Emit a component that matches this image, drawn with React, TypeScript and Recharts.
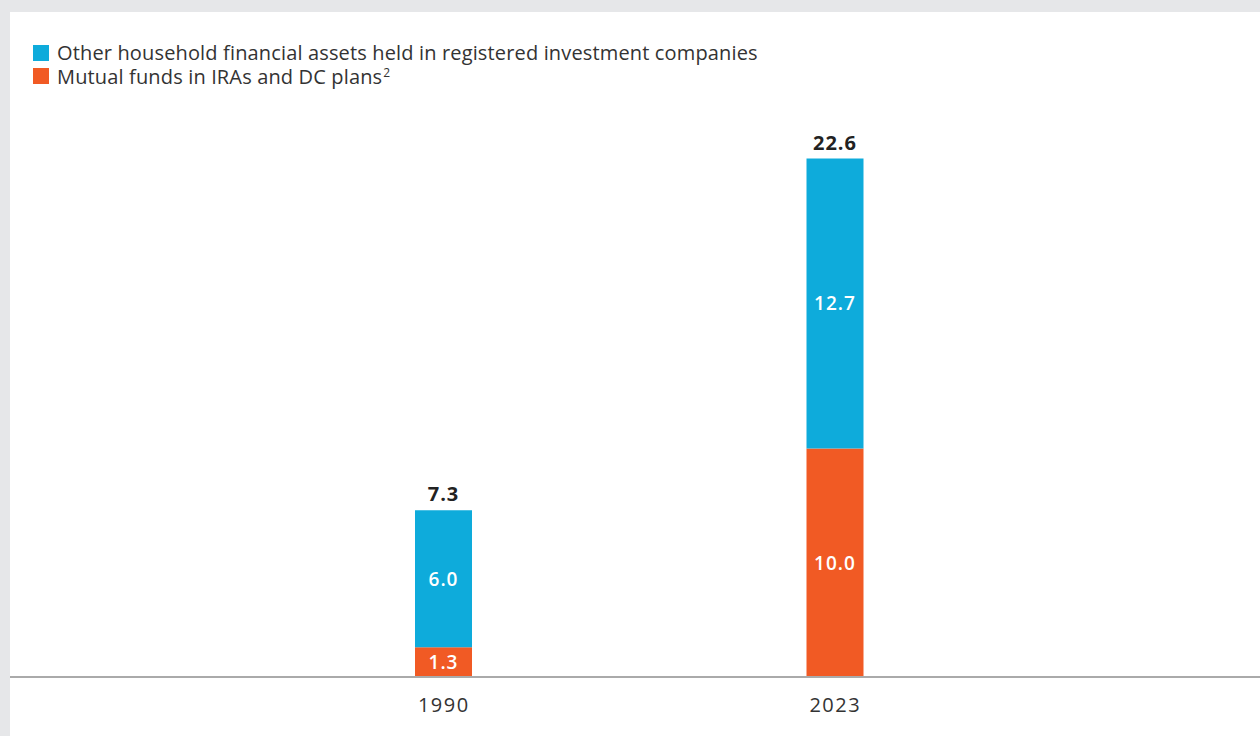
import { BarChart, Bar, XAxis, YAxis, LabelList } from 'recharts'

const years = ['1990', '2023']
const mutualFunds = [1.3, 10.0]
const otherAssets = [6.0, 12.7]
const totals = [7.3, 22.6]
const seriesNames = ['Other household financial assets held in registered investment companies', 'Mutual funds in IRAs and DC plans']
const seriesColors = ['#0eabdb', '#f15a24']

const data = years.map((year, i) => ({
  year,
  mutual: mutualFunds[i],
  other: otherAssets[i],
  total: totals[i]
}))

const FONT = '"Open Sans", "Noto Sans", sans-serif'

function TotalLabel(props: any): JSX.Element {
  const { x, y, width, index } = props
  return (
    <text
      x={x + width / 2}
      y={y - 9}
      textAnchor="middle"
      fill="#222"
      fontSize={20}
      fontWeight={700}
      fontFamily={FONT}
      letterSpacing={1}
    >
      {totals[index].toFixed(1)}
    </text>
  )
}

function App(): JSX.Element {
  return (
    <div
      style={{
        position: 'fixed',
        left: 0,
        top: 0,
        width: 1260,
        height: 736,
        background: '#e6e7e9',
        fontFamily: FONT
      }}
    >
      <div
        style={{
          position: 'absolute',
          left: 10,
          top: 12,
          width: 1250,
          height: 724,
          background: '#ffffff'
        }}
      >
        <div style={{ position: 'absolute', left: 23, top: 29, color: '#333', fontSize: 20, letterSpacing: 0.15 }}>
          {seriesNames.map((name, i) => (
            <div key={name} style={{ display: 'flex', alignItems: 'center', height: 23.5, lineHeight: '23px' }}>
              <span
                style={{
                  display: 'inline-block',
                  width: 16,
                  height: 16,
                  background: seriesColors[i],
                  marginRight: 8,
                  flexShrink: 0
                }}
              />
              <span>
                {name}
                {i === 1 && (
                  <span style={{ position: 'relative', top: -7, fontSize: 12, lineHeight: 1, marginLeft: 1 }}>2</span>
                )}
              </span>
            </div>
          ))}
        </div>
        <BarChart
          width={1250}
          height={724}
          data={data}
          margin={{ top: 94, right: 0, bottom: 19, left: 0 }}
        >
          <XAxis
            dataKey="year"
            padding={{ left: 238, right: 229 }}
            axisLine={{ stroke: '#aaaaaa', strokeWidth: 2 }}
            tickLine={false}
            tickMargin={15}
            height={40}
            tick={{ fill: '#333', fontSize: 20, fontFamily: FONT, letterSpacing: 1.5 }}
          />
          <YAxis hide domain={[0, 25]} />
          <Bar dataKey="mutual" stackId="a" fill={seriesColors[1]} barSize={57} isAnimationActive={false}>
            <LabelList
              dataKey="mutual"
              position="center"
              fill="#fff"
              fontSize={19}
              fontWeight={600}
              fontFamily={FONT}
              letterSpacing={1}
              formatter={(v: any) => Number(v).toFixed(1)}
            />
          </Bar>
          <Bar dataKey="other" stackId="a" fill={seriesColors[0]} barSize={57} isAnimationActive={false}>
            <LabelList
              dataKey="other"
              position="center"
              fill="#fff"
              fontSize={19}
              fontWeight={600}
              fontFamily={FONT}
              letterSpacing={1}
              formatter={(v: any) => Number(v).toFixed(1)}
            />
            <LabelList dataKey="total" content={TotalLabel} />
          </Bar>
        </BarChart>
      </div>
    </div>
  )
}

export default App
